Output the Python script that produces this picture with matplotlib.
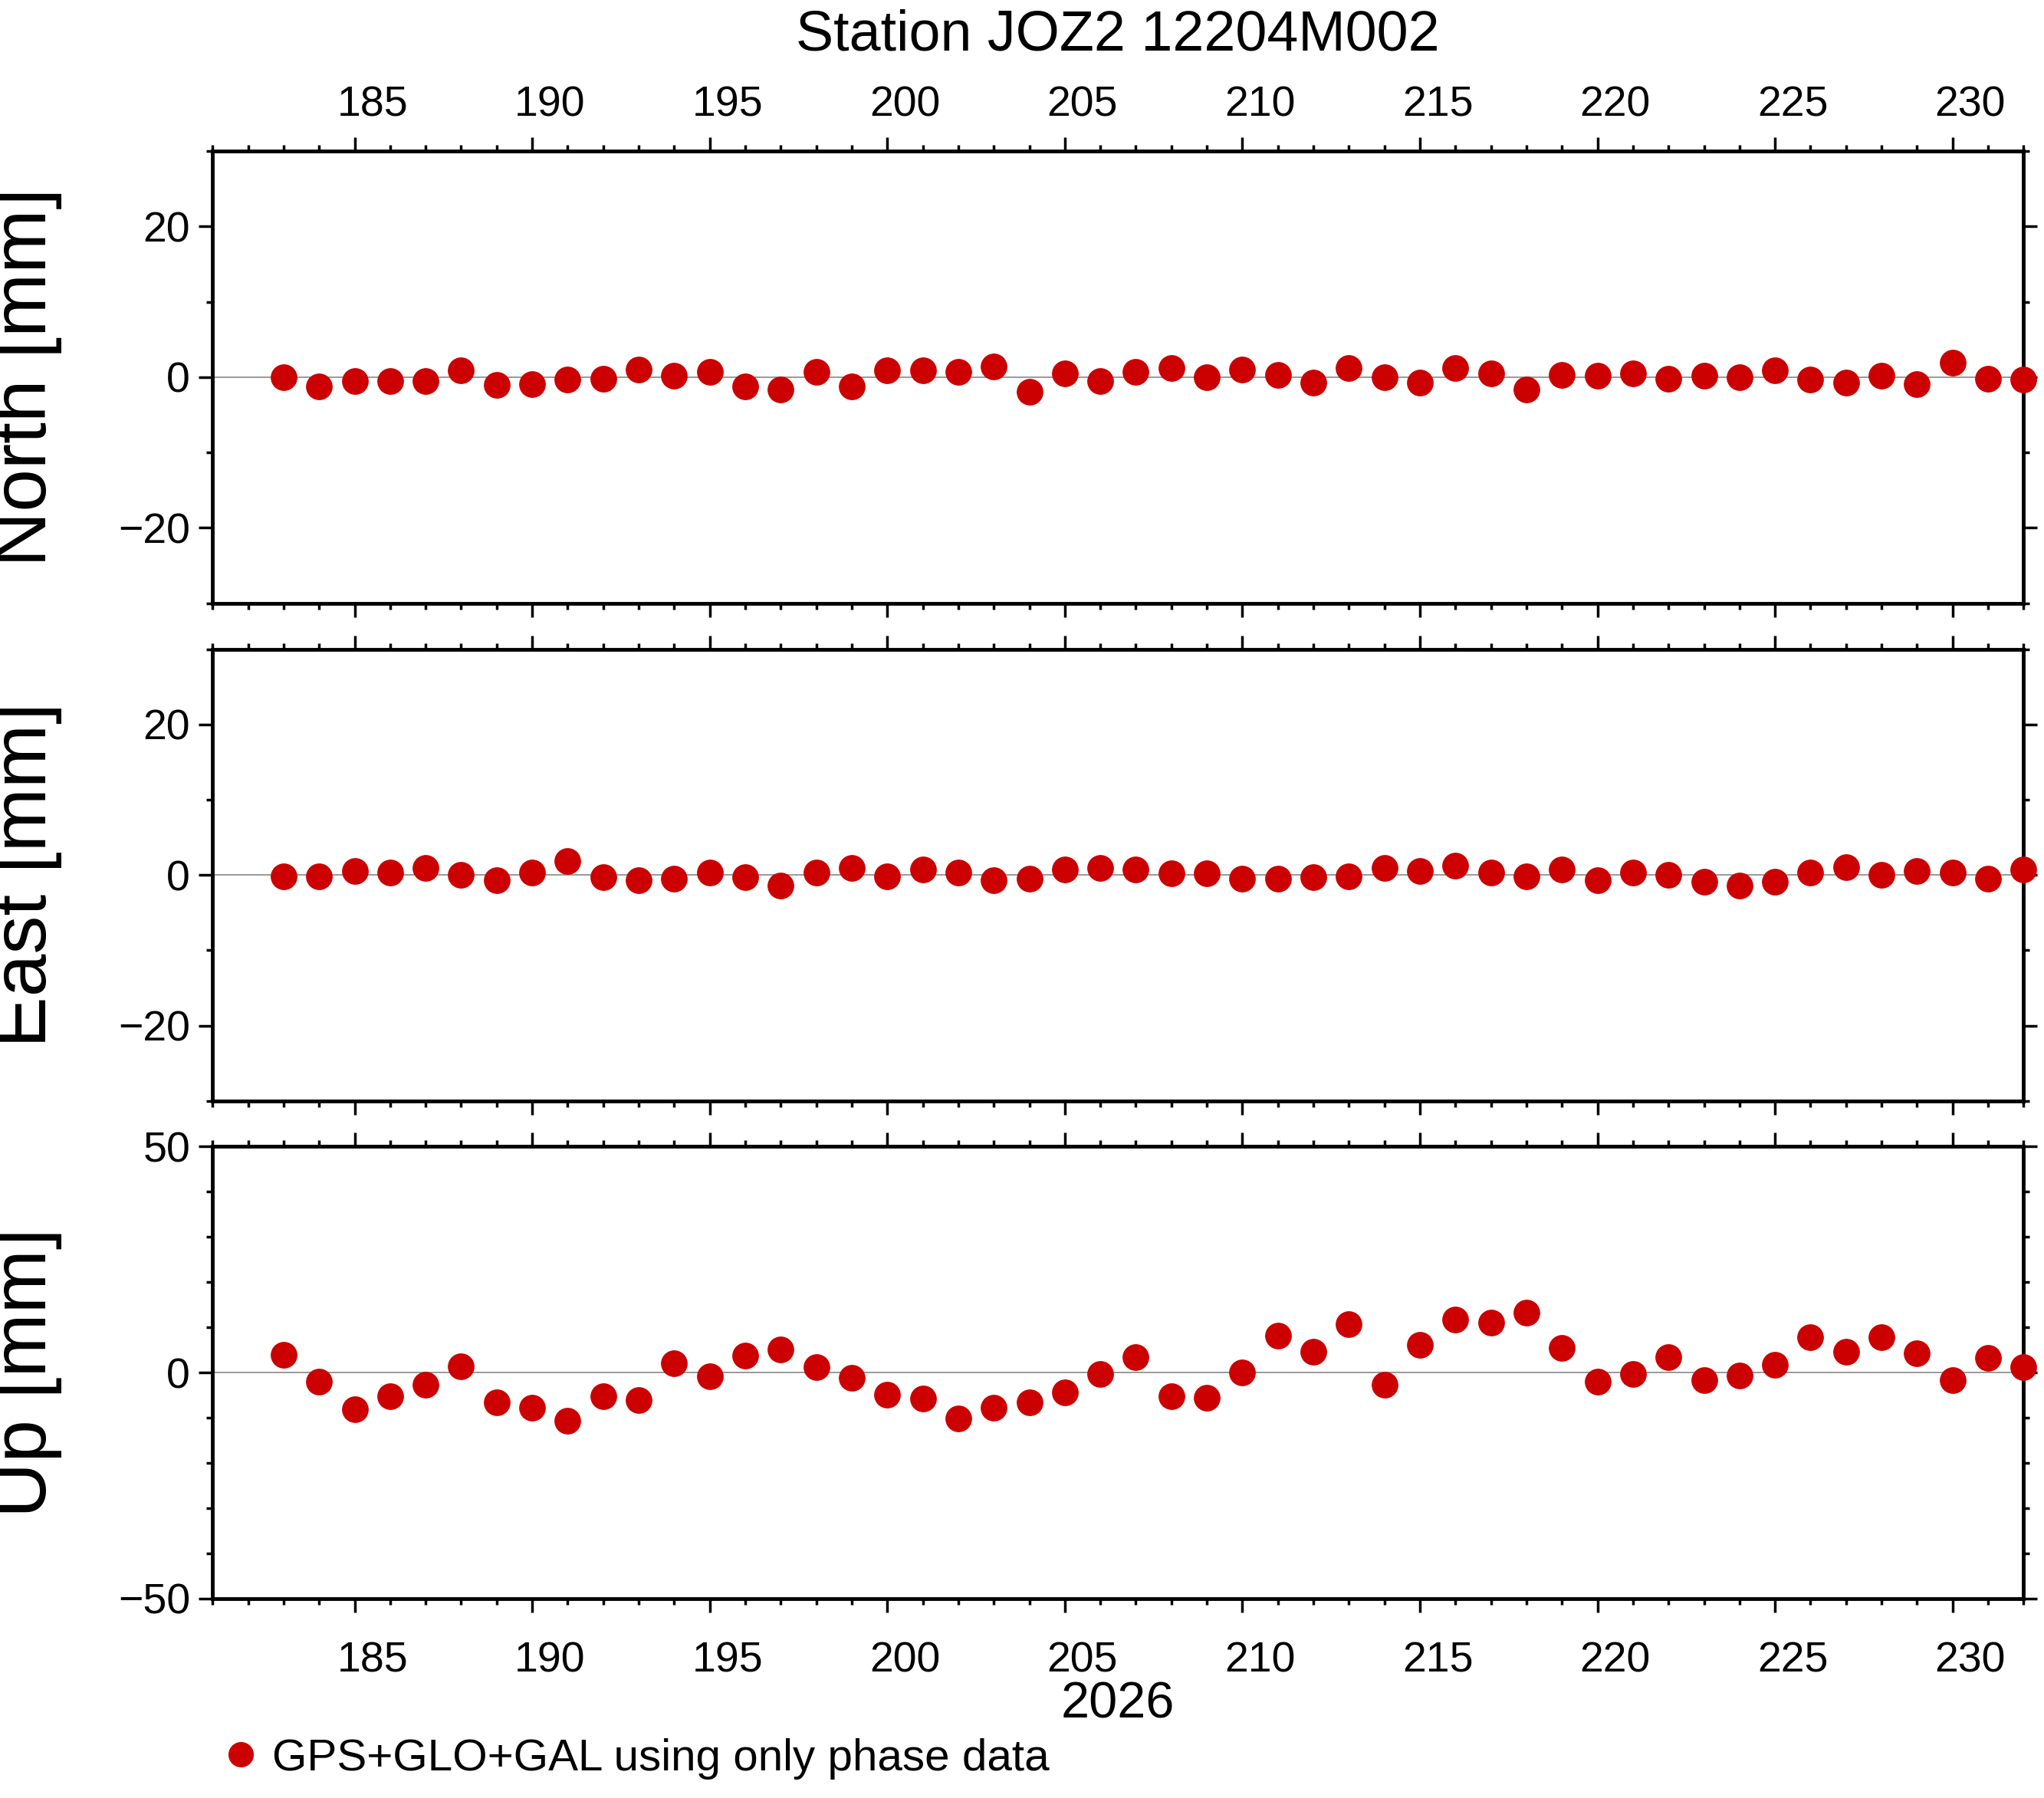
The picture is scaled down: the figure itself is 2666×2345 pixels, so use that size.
import matplotlib
matplotlib.use('Agg')
import matplotlib.pyplot as plt
from matplotlib.ticker import MultipleLocator

plt.rcParams['font.family'] = ['Liberation Sans', 'DejaVu Sans']

days = list(range(183, 233))
north = [0, -1.2, -0.5, -0.5, -0.5, 0.9, -1, -0.9, -0.3, -0.2,
         1.0, 0.2, 0.7, -1.2, -1.6, 0.7, -1.2, 0.9, 0.9, 0.7,
         1.4, -1.9, 0.5, -0.5, 0.7, 1.2, 0, 1, 0.3, -0.7,
         1.2, 0, -0.7, 1.2, 0.5, -1.6, 0.3, 0.2, 0.5, -0.2,
         0.2, 0, 0.9, -0.3, -0.7, 0.2, -0.9, 1.9, -0.2, -0.3]
east = [-0.2, -0.2, 0.5, 0.3, 0.9, 0, -0.7, 0.3, 1.9, -0.3,
        -0.7, -0.5, 0.3, -0.3, -1.4, 0.3, 0.9, -0.2, 0.7, 0.3,
        -0.7, -0.5, 0.7, 0.9, 0.7, 0.2, 0.2, -0.5, -0.5, -0.3,
        -0.2, 0.9, 0.5, 1.2, 0.3, -0.2, 0.7, -0.7, 0.3, 0,
        -0.9, -1.4, -0.9, 0.3, 1, 0, 0.5, 0.3, -0.5, 0.7]
up = [4.0, -2.0, -8.1, -5.2, -2.6, 1.4, -6.6, -7.8, -10.7, -5.2,
      -6.1, 2.0, -0.9, 3.7, 5.2, 1.2, -1.2, -4.9, -5.8, -10.1,
      -7.8, -6.6, -4.3, -0.3, 3.5, -5.2, -5.5, 0, 8.1, 4.6,
      10.7, -2.6, 6.1, 11.8, 11.0, 13.3, 5.5, -2.0, -0.3, 3.5,
      -1.7, -0.6, 1.7, 7.8, 4.6, 7.8, 4.3, -1.7, 3.2, 1.2]

panels = [('North [mm]', north, 30, 20), ('East [mm]', east, 30, 20), ('Up [mm]', up, 50, 50)]
label_days = list(range(185, 231, 5))

fig = plt.figure(figsize=(26.66, 23.45), dpi=100)
boxes = [(0.916, 0.6645), (0.639, 0.3877), (0.3623, 0.1109)]
red = '#cc0000'
for i, ((name, vals, lim, step), (top, bot)) in enumerate(zip(panels, boxes)):
    ax = fig.add_axes([0.104, bot, 0.886, top - bot])
    ax.axhline(0, color='#888888', lw=1.2, zorder=1)
    pts, = ax.plot(days, vals, 'o', color=red, ms=24, mec=red, zorder=3, clip_on=False,
                   label='GPS+GLO+GAL using only phase data')
    ax.set_xlim(181, 232)
    ax.set_ylim(-lim, lim)
    ax.xaxis.set_major_locator(MultipleLocator(5))
    ax.xaxis.set_minor_locator(MultipleLocator(1))
    ax.yaxis.set_major_locator(MultipleLocator(step))
    ax.yaxis.set_minor_locator(MultipleLocator(10))
    ax.tick_params(which='both', direction='out', top=True, right=True, labelbottom=False,
                   labelsize=40, width=2.5, pad=8)
    ax.tick_params(which='major', length=13)
    ax.tick_params(which='minor', length=6)
    for s in ax.spines.values():
        s.set_linewidth(3.5)
    ax.set_ylabel(name, fontsize=72, labelpad=10)
    ax.yaxis.set_label_coords(-0.083, 0.5)
    if i == 0 or i == 2:
        sec = ax.secondary_xaxis('top' if i == 0 else 'bottom')
        sec.set_xticks([d + 0.5 for d in label_days])
        sec.set_xticklabels([str(d) for d in label_days])
        sec.tick_params(length=0, labelsize=40, pad=24 if i == 0 else 40)
        sec.spines[:].set_visible(False)
        if i == 0:
            ax.set_title('Station JOZ2 12204M002', fontsize=53, pad=95)
        else:
            sec.set_xlabel('2026', fontsize=48, labelpad=0)

fig.legend(handles=[pts], loc='lower left', bbox_to_anchor=(0.085, -0.012), frameon=False,
           fontsize=42, handletextpad=0.1, markerscale=0.95, handlelength=1.2)
fig.savefig('out.png', dpi=100)
